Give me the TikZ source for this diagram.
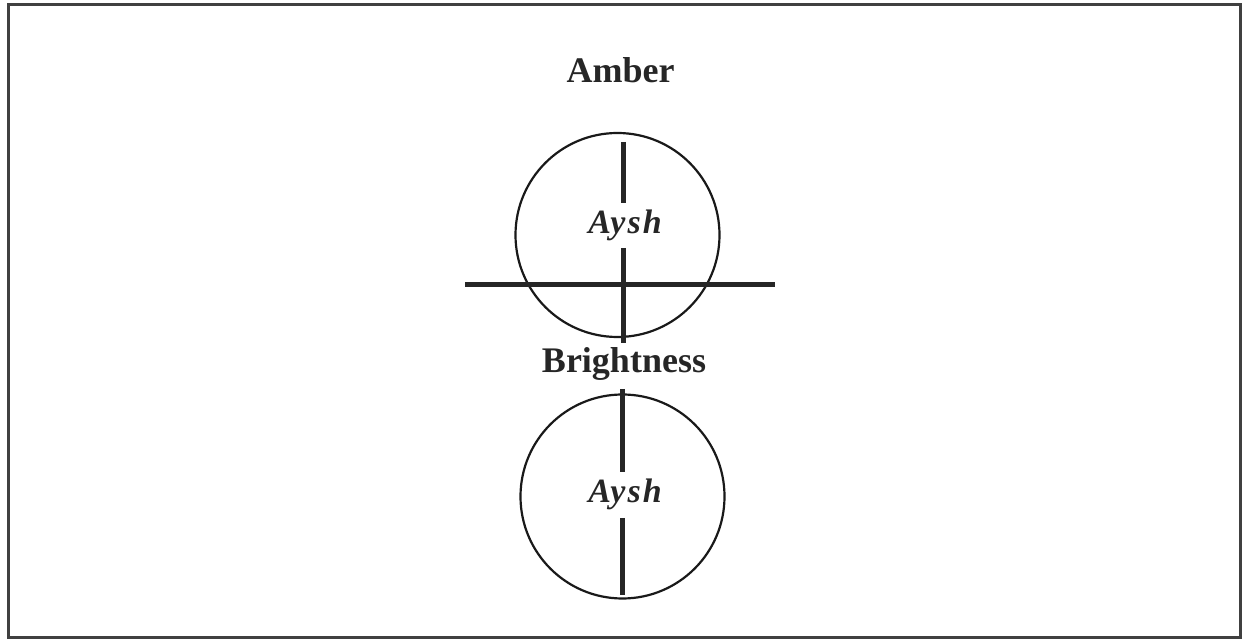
\documentclass[tikz,border=0pt]{standalone}
\usepackage{fontspec}
\setmainfont{Liberation Serif}
\newfontfamily\spacedit[LetterSpace=6]{Liberation Serif}
\begin{document}
\begin{tikzpicture}[x=0.5pt,y=-0.5pt,
  ring/.style={draw=black!90, line width=1.1pt, circle, minimum size=102pt, inner sep=0pt},
  bar/.style={line width=2.5pt, black!85},
  heading/.style={font=\fontsize{18}{20}\selectfont\bfseries, anchor=base, inner sep=0pt, text=black!85},
  inner/.style={font=\spacedit\fontsize{17}{19}\selectfont\bfseries\itshape, anchor=base, inner sep=0pt, text=black!85}]
\useasboundingbox (0,0) rectangle (1243,640);
\draw[line width=1.5pt, black!75] (8,5) rectangle (1240,638);
% labels
\node[heading] (amber) at (620.5,83) {Amber};
\node[heading] (bright) at (624,373) {Brightness};
% circles
\node[ring] (c1) at (617.5,235) {};
\node[ring] (c2) at (622.5,496.5) {};
\node[inner] (a1) at (625,234) {Aysh};
\node[inner] (a2) at (625,503) {Aysh};
% top cross
\coordinate (t1) at (623,142);
\coordinate (t2) at (623,203);
\coordinate (t3) at (623,248);
\coordinate (t4) at (623,343);
\coordinate (h1) at (465,285);
\coordinate (h2) at (775,285);
\draw[bar] (t1) -- (t2);
\draw[bar] (t3) -- (t4);
\draw[bar] (h1) -- (h2);
% bottom line
\coordinate (b1) at (622,389);
\coordinate (b2) at (622,472);
\coordinate (b3) at (622,518);
\coordinate (b4) at (622,595);
\draw[bar] (b1) -- (b2);
\draw[bar] (b3) -- (b4);
\end{tikzpicture}
\end{document}
